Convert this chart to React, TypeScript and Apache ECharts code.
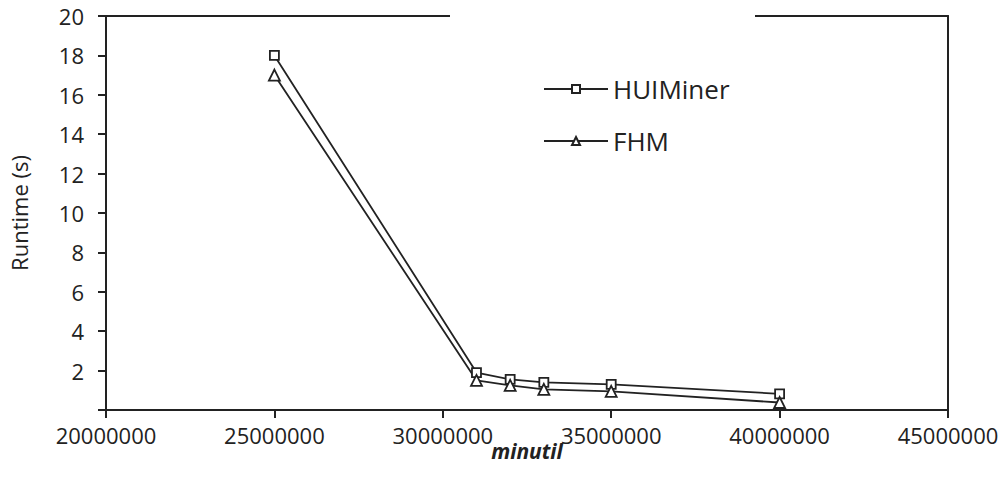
import React, { useEffect, useRef } from "react";
import * as echarts from "echarts";

const minutil = [25000000, 31000000, 32000000, 33000000, 35000000, 40000000];
const huiMiner = [18, 1.9, 1.55, 1.4, 1.3, 0.82];
const fhm = [17, 1.5, 1.25, 1.05, 0.95, 0.38];
const xTicks = { min: 20000000, max: 45000000, interval: 5000000 };
const yTicks = { min: 0, max: 20, interval: 2 };

const FONT = "'Open Sans', 'Noto Sans', sans-serif";

export default function App() {
  const ref = useRef<HTMLDivElement>(null);
  useEffect(() => {
    if (!ref.current) return;
    const chart = echarts.init(ref.current, undefined, { renderer: "svg" });
    const axisLine = { show: true, lineStyle: { color: "#222", width: 2 } };
    chart.setOption({
      animation: false,
      backgroundColor: "#fff",
      grid: { left: 104, right: 57, top: 16, bottom: 74, containLabel: false },
      legend: {
        orient: "vertical",
        left: 538,
        top: 71,
        itemWidth: 64,
        itemHeight: 10,
        itemGap: 26,
        textStyle: { fontFamily: FONT, fontSize: 26, color: "#222" },
        data: ["HUIMiner", "FHM"],
      },
      xAxis: [
        {
          type: "value",
          min: xTicks.min,
          max: xTicks.max,
          interval: xTicks.interval,
          name: "minutil",
          nameLocation: "middle",
          nameGap: 30,
          nameMoveOverlap: false,
          nameTextStyle: { fontFamily: FONT, fontSize: 21, fontWeight: "bold", fontStyle: "italic", color: "#222" },
          axisLine: { ...axisLine, onZero: false },
          axisTick: { show: true, inside: false, length: 8, lineStyle: { color: "#222", width: 2 } },
          axisLabel: {
            fontFamily: FONT,
            fontSize: 22,
            color: "#222",
            margin: 14,
            formatter: (v: number) => String(v),
          },
          splitLine: { show: false },
        },
        {
          type: "value",
          position: "top",
          min: xTicks.min,
          max: xTicks.max,
          axisLine: { ...axisLine, onZero: false },
          axisTick: { show: false },
          axisLabel: { show: false },
          splitLine: { show: false },
        },
      ],
      yAxis: [
        {
          type: "value",
          min: yTicks.min,
          max: yTicks.max,
          interval: yTicks.interval,
          name: "Runtime (s)",
          nameLocation: "middle",
          nameGap: 76,
          nameMoveOverlap: false,
          nameTextStyle: { fontFamily: FONT, fontSize: 22, color: "#222" },
          axisLine: { ...axisLine, onZero: false },
          axisTick: { show: true, inside: false, length: 8, lineStyle: { color: "#222", width: 2 } },
          axisLabel: {
            fontFamily: FONT,
            fontSize: 22,
            color: "#222",
            margin: 22,
            formatter: (v: number) => (v === 0 ? "" : String(v)),
          },
          splitLine: { show: false },
        },
        {
          type: "value",
          position: "right",
          min: yTicks.min,
          max: yTicks.max,
          axisLine: { ...axisLine, onZero: false },
          axisTick: { show: false },
          axisLabel: { show: false },
          splitLine: { show: false },
        },
      ],
      graphic: [
        { type: "rect", z: 100, shape: { x: 450, y: 10, width: 305, height: 12 }, style: { fill: "#fff" } },
      ],
      series: [
        {
          name: "HUIMiner",
          type: "line",
          data: minutil.map((x, i) => [x, huiMiner[i]]),
          symbol: "rect",
          symbolSize: 9,
          lineStyle: { color: "#222", width: 1.8 },
          itemStyle: { color: "#fff", borderColor: "#222", borderWidth: 1.8 },
        },
        {
          name: "FHM",
          type: "line",
          data: minutil.map((x, i) => [x, fhm[i]]),
          symbol: "triangle",
          symbolSize: 11,
          lineStyle: { color: "#222", width: 1.8 },
          itemStyle: { color: "#fff", borderColor: "#222", borderWidth: 1.8 },
        },
      ],
    });
    return () => chart.dispose();
  }, []);
  return (
    <div
      ref={ref}
      style={{ position: "fixed", left: 0, top: 0, width: 1005, height: 484, background: "#fff" }}
    />
  );
}
